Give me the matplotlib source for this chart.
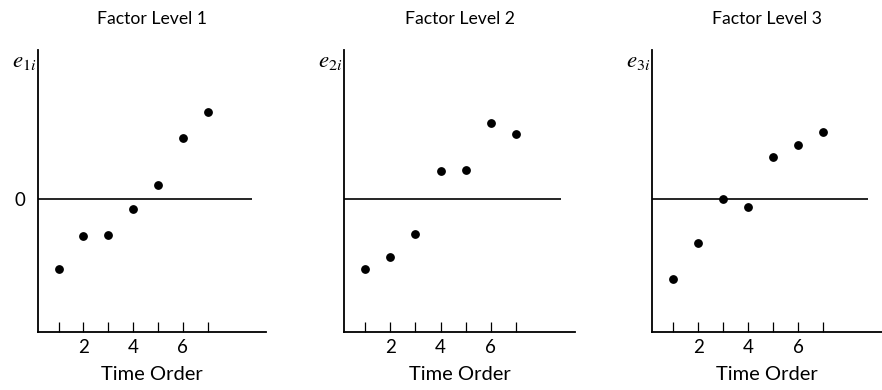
import matplotlib
matplotlib.use("Agg")
from matplotlib import pyplot as plt

plt.rcParams['font.family'] = ['Lato', 'DejaVu Sans']
plt.rcParams['mathtext.fontset'] = 'stix'

## data (residuals, arbitrary units)
time_order = [1, 2, 3, 4, 5, 6, 7]
level1 = [-7.0, -3.7, -3.6, -1.0, 1.4, 6.1, 8.7]
level2 = [-7.0, -5.8, -3.5, 2.8, 2.9, 7.6, 6.5]
level3 = [-8.0, -4.4, 0.0, -0.8, 4.2, 5.4, 6.7]
residuals = [level1, level2, level3]
titles = ["Factor Level 1", "Factor Level 2", "Factor Level 3"]
ylabels = ["$e_{1i}$", "$e_{2i}$", "$e_{3i}$"]
tick_labels = ["", "2", "", "4", "", "6", ""]

fig = plt.figure(figsize=(8.82, 3.9), dpi=100)
lefts = [0.0431, 0.3904, 0.7396]
widths = [0.2585, 0.2616, 0.2601]

for k in range(3):
    ax = fig.add_axes([lefts[k], 0.1487, widths[k], 0.7231])
    ax.plot(time_order, residuals[k], 'o', color='black', markersize=5.3)
    ax.set_xlim(0.17, 9.35)
    ax.set_ylim(-13.3, 14.9)
    ax.hlines(0, 0.17, 8.8, color='black', linewidth=1.2)   ## zero line

    ax.spines['top'].set_visible(False)
    ax.spines['right'].set_visible(False)
    ax.spines['left'].set_linewidth(1.3)
    ax.spines['bottom'].set_linewidth(1.3)

    ax.set_xticks(time_order)
    ax.set_xticklabels(tick_labels, fontsize=13.5)
    ax.tick_params(axis='x', direction='in', length=7, width=0.9, pad=5)
    if k == 0:
        ax.set_yticks([0])
        ax.set_yticklabels(["0"], fontsize=13.5)
        ax.tick_params(axis='y', length=0, pad=9)
    else:
        ax.set_yticks([])

    ax.set_title(titles[k], fontsize=12.7, pad=19)
    ax.set_xlabel("Time Order", fontsize=14.5, labelpad=7)
    ax.annotate(ylabels[k], xy=(0, 1), xycoords='axes fraction',
                xytext=(-1.5, -1), textcoords='offset points',
                ha='right', va='top', fontsize=16.5)

fig.savefig("out.png", dpi=100)
